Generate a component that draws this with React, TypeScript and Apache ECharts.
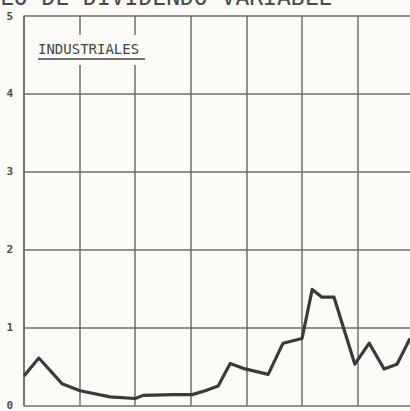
import React, { useEffect, useRef } from "react";
import * as echarts from "echarts";

const xValues = [0, 3.2, 8.2, 12.1, 18.6, 24.0, 25.7, 32.2, 36.3, 39.1, 41.9, 44.5, 47.7, 52.7, 55.9, 60.0, 62.2, 64.3, 66.9, 71.4, 74.5, 77.7, 80.5, 83.3];
const yValues = [0.38, 0.61, 0.28, 0.19, 0.11, 0.09, 0.13, 0.14, 0.14, 0.19, 0.25, 0.54, 0.47, 0.40, 0.80, 0.86, 1.49, 1.39, 1.39, 0.53, 0.80, 0.47, 0.53, 0.86];
const yTicks = ["0", "1", "2", "3", "4", "5"];
const titleText = "LO DE DIVIDENDO VARIABLE";
const seriesLabel = "INDUSTRIALES";

const BG = "#fcfbf7";
const GRID = "#6e6e6e";
const INK = "#3a3a3a";
const MONO = "'DejaVu Sans Mono', monospace";

export default function App() {
  const ref = useRef<HTMLDivElement>(null);
  useEffect(() => {
    if (!ref.current) return;
    const chart = echarts.init(ref.current, null, { renderer: "svg" });
    chart.setOption({
      animation: false,
      backgroundColor: BG,
      grid: { left: 24, right: 0, top: 16, bottom: 1, containLabel: false },
      xAxis: {
        type: "value",
        min: 0,
        max: 83.3,
        interval: 12,
        axisLine: { show: false },
        axisTick: { show: false },
        axisLabel: { show: false },
        splitLine: { show: true, showMaxLine: false, lineStyle: { color: GRID, width: 1.5 } },
      },
      yAxis: {
        type: "value",
        min: 0,
        max: 5,
        interval: 1,
        axisLine: { show: true, lineStyle: { color: GRID, width: 1.5 } },
        axisTick: { show: false },
        axisLabel: {
          show: true,
          margin: 11,
          color: "#4a4a4a",
          fontFamily: MONO,
          fontWeight: "bold",
          fontSize: 11,
          formatter: (v: number) => yTicks[Math.round(v)] ?? "",
        },
        splitLine: { show: true, lineStyle: { color: GRID, width: 1.5 } },
      },
      series: [
        {
          type: "line",
          data: xValues.map((x, i) => [x, yValues[i]]),
          symbol: "none",
          lineStyle: { color: INK, width: 3.2, join: "round" },
          z: 5,
        },
      ],
      graphic: [
        {
          type: "rect",
          shape: { x: 36, y: 35, width: 112, height: 30 },
          style: { fill: BG },
          z: 100,
        },
        {
          type: "text",
          x: 38,
          y: 49,
          z: 101,
          style: {
            text: seriesLabel,
            fill: "#444",
            font: `14px ${MONO}`,
            verticalAlign: "middle",
          },
        },
        {
          type: "line",
          shape: { x1: 38, y1: 59, x2: 145, y2: 59 },
          style: { stroke: "#444", lineWidth: 1.5 },
          z: 101,
        },
        {
          type: "text",
          x: 0,
          y: -3,
          z: 101,
          style: {
            text: titleText,
            fill: "#4a4a4a",
            font: `23px ${MONO}`,
            verticalAlign: "middle",
          },
        },
      ],
    });
    return () => chart.dispose();
  }, []);
  return <div ref={ref} style={{ width: 410, height: 411, position: "absolute", left: 0, top: 0 }} />;
}
